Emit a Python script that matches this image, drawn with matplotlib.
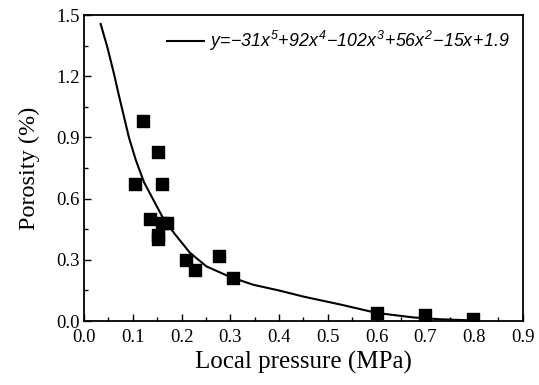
import numpy as np
import matplotlib.pyplot as plt
from matplotlib.ticker import MultipleLocator

# measured porosity vs local pressure
pressure = [0.105, 0.121, 0.136, 0.152, 0.152, 0.152, 0.160, 0.159, 0.170,
            0.210, 0.227, 0.277, 0.306, 0.600, 0.700, 0.797]
porosity = [0.672, 0.983, 0.50, 0.828, 0.42, 0.40, 0.48, 0.670, 0.48,
            0.30, 0.25, 0.318, 0.21, 0.04, 0.028, 0.008]

# fitted curve
fit_x = [0.034, 0.048, 0.0615, 0.072, 0.082, 0.092, 0.106, 0.123, 0.143,
         0.163, 0.185, 0.217, 0.251, 0.299, 0.347, 0.400, 0.450, 0.528,
         0.600, 0.675, 0.730, 0.800]
fit_y = [1.456, 1.34, 1.21, 1.10, 1.00, 0.90, 0.79, 0.68, 0.59,
         0.50, 0.43, 0.335, 0.268, 0.217, 0.178, 0.150, 0.120, 0.080,
         0.040, 0.018, 0.009, 0.003]

fit_label = r'$y\!=\!{-}31x^5\!+\!92x^4\!-\!102x^3\!+\!56x^2\!-\!15x\!+\!1.9$'

plt.rcParams['font.family'] = 'Liberation Serif'
plt.rcParams['mathtext.fontset'] = 'custom'
plt.rcParams['mathtext.rm'] = 'Liberation Sans:italic'
plt.rcParams['mathtext.it'] = 'Liberation Sans:italic'

fig = plt.figure(figsize=(5.39, 3.85), dpi=100)
ax = fig.add_axes([0.156, 0.166, 0.814, 0.795])

ax.plot(fit_x, fit_y, color='black', lw=1.5, label=fit_label)
ax.scatter(pressure, porosity, marker='s', s=80, color='black', zorder=3)

ax.set_xlim(0, 0.9)
ax.set_ylim(0, 1.5)
ax.xaxis.set_major_locator(MultipleLocator(0.1))
ax.xaxis.set_minor_locator(MultipleLocator(0.05))
ax.yaxis.set_major_locator(MultipleLocator(0.3))
ax.yaxis.set_minor_locator(MultipleLocator(0.15))
ax.tick_params(which='major', direction='in', length=5, width=1, labelsize=13.5, pad=3)
ax.tick_params(which='minor', direction='in', length=3, width=1)
ax.tick_params(axis='x', which='major', pad=6)
for s in ax.spines.values():
    s.set_linewidth(1.3)

ax.set_xlabel('Local pressure (MPa)', fontsize=18, labelpad=3)
ax.set_ylabel('Porosity (%)', fontsize=17.5, labelpad=12)

ax.legend(loc='upper right', frameon=False, fontsize=12.8, handlelength=2.1,
          handletextpad=0.3, bbox_to_anchor=(0.995, 0.99), borderaxespad=0.2)

fig.savefig('out.png', dpi=100)
